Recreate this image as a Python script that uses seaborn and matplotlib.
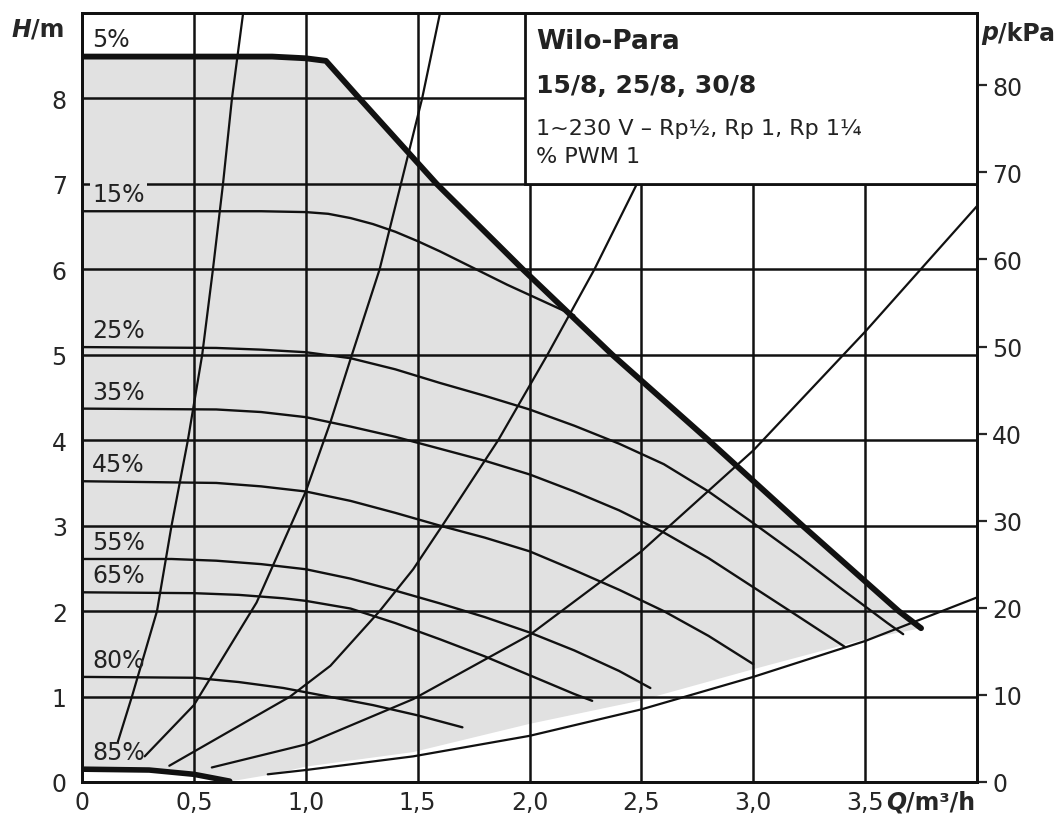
import numpy as np
import pandas as pd
import matplotlib
matplotlib.use('Agg')
import matplotlib.pyplot as plt
import seaborn as sns
from matplotlib.patches import Rectangle

# Kennlinien Wilo-Para 15/8, 25/8, 30/8  (Q in m³/h, H in m)
q_max = [0, 0.5, 0.85, 1.0, 1.09, 1.24, 1.585, 1.97, 2.37, 2.8, 3.22, 3.65, 3.75]
h_max = [8.49, 8.49, 8.49, 8.47, 8.44, 8.0, 7.0, 6.0, 5.0, 4.0, 3.0, 2.0, 1.8]

q_15 = [0, 0.6, 0.8, 1.0, 1.1, 1.2, 1.3, 1.4, 1.5, 1.6, 1.7, 1.8, 1.9, 2.0, 2.1, 2.2]
h_15 = [6.68, 6.68, 6.68, 6.67, 6.65, 6.6, 6.53, 6.44, 6.33, 6.21, 6.08, 5.95, 5.82, 5.7,
        5.58, 5.46]

q_25 = [0, 0.6, 0.8, 1.0, 1.2, 1.4, 1.6, 1.8, 2.0, 2.2, 2.4, 2.6, 2.8, 3.0, 3.2, 3.4,
        3.6, 3.67]
h_25 = [5.09, 5.08, 5.06, 5.03, 4.96, 4.83, 4.67, 4.52, 4.36, 4.17, 3.96, 3.72, 3.4,
        3.03, 2.65, 2.25, 1.86, 1.73]

q_35 = [0, 0.6, 0.8, 1.0, 1.2, 1.4, 1.6, 1.8, 2.0, 2.2, 2.4, 2.6, 2.8, 3.0, 3.2, 3.41]
h_35 = [4.37, 4.36, 4.33, 4.27, 4.16, 4.04, 3.9, 3.76, 3.6, 3.4, 3.18, 2.92, 2.62, 2.28,
        1.94, 1.58]

q_45 = [0, 0.6, 0.8, 1.0, 1.2, 1.4, 1.6, 1.8, 2.0, 2.2, 2.4, 2.6, 2.8, 3.0]
h_45 = [3.52, 3.5, 3.46, 3.4, 3.29, 3.15, 3.0, 2.86, 2.7, 2.48, 2.25, 2.0, 1.71, 1.38]

q_55 = [0, 0.4, 0.6, 0.8, 1.0, 1.2, 1.4, 1.6, 1.8, 2.0, 2.2, 2.4, 2.54]
h_55 = [2.61, 2.61, 2.59, 2.55, 2.49, 2.38, 2.24, 2.09, 1.93, 1.75, 1.54, 1.3, 1.1]

q_65 = [0, 0.5, 0.7, 0.9, 1.0, 1.2, 1.4, 1.6, 1.8, 2.0, 2.2, 2.28]
h_65 = [2.22, 2.21, 2.19, 2.15, 2.12, 2.03, 1.86, 1.67, 1.47, 1.25, 1.03, 0.95]

q_80 = [0, 0.5, 0.7, 0.9, 1.0, 1.1, 1.3, 1.5, 1.7]
h_80 = [1.23, 1.22, 1.17, 1.1, 1.05, 1.0, 0.9, 0.78, 0.64]

q_85 = [0, 0.3, 0.5, 0.66]
h_85 = [0.15, 0.14, 0.09, 0.01]

# untere Grenze des Arbeitsbereichs
q_min = [0.67, 0.85, 1.0, 1.48, 2.0, 2.49, 3.0, 3.5, 3.75]
h_min = [0.01, 0.09, 0.18, 0.35, 0.68, 0.95, 1.32, 1.67, 1.8]

# Anlagenkennlinien
q_s1 = [0.16, 0.223, 0.335, 0.40, 0.473, 0.537, 0.585, 0.63, 0.67, 0.72]
h_s1 = [0.47, 1.0, 2.0, 3.0, 4.0, 5.0, 6.0, 7.0, 8.0, 9.0]
q_s2 = [0.28, 0.5, 0.78, 1.0, 1.11, 1.2, 1.33, 1.43, 1.52, 1.6]
h_s2 = [0.3, 0.9, 2.1, 3.4, 4.21, 4.95, 6.0, 7.05, 8.0, 9.0]
q_s3 = [0.39, 0.93, 1.11, 1.33, 1.48, 1.61, 1.86, 2.08, 2.29, 2.48]
h_s3 = [0.19, 1.0, 1.36, 2.0, 2.49, 3.0, 4.0, 5.0, 6.0, 7.0]
q_s4 = [0.58, 1.0, 1.48, 2.0, 2.5, 3.0, 3.5, 4.0]
h_s4 = [0.17, 0.44, 0.97, 1.72, 2.7, 3.88, 5.27, 6.74]
q_s5 = [0.83, 1.0, 1.48, 2.0, 2.5, 3.0, 3.5, 4.0]
h_s5 = [0.09, 0.14, 0.3, 0.54, 0.85, 1.23, 1.65, 2.16]

labels = ['5%', '15%', '25%', '35%', '45%', '55%', '65%', '80%', '85%']
x_ticks = [0, 0.5, 1.0, 1.5, 2.0, 2.5, 3.0, 3.5]
x_ticklabels = ['0', '0,5', '1,0', '1,5', '2,0', '2,5', '3,0', '3,5']
kpa_ticks = [0, 10, 20, 30, 40, 50, 60, 70, 80]

sns.set_style('white')
plt.rcParams['font.family'] = ['DejaVu Sans']

fig = plt.figure(figsize=(10.6, 8.29), dpi=100)
ax = fig.add_axes([0.0774, 0.0555, 0.8443, 0.9276])

grau = '#e1e1e1'
schwarz = '#111111'
# Arbeitsbereich grau hinterlegen
poly_q = q_max + q_min[::-1] + q_85[::-1]
poly_h = h_max + h_min[::-1] + h_85[::-1]
ax.fill(poly_q, poly_h, color=grau, lw=0, zorder=1)

kurven = [(q_15, h_15), (q_25, h_25), (q_35, h_35), (q_45, h_45),
          (q_55, h_55), (q_65, h_65), (q_80, h_80)]
for q, h in kurven:
    sns.lineplot(x=q, y=h, ax=ax, color=schwarz, lw=1.7, sort=False, zorder=2)

for q, h in [(q_s1, h_s1), (q_s2, h_s2), (q_s3, h_s3), (q_s4, h_s4), (q_s5, h_s5)]:
    sns.lineplot(x=q, y=h, ax=ax, color=schwarz, lw=1.6, sort=False, zorder=2)

sns.lineplot(x=q_max, y=h_max, ax=ax, color=schwarz, lw=4.2, sort=False, zorder=2.6)
sns.lineplot(x=q_85, y=h_85, ax=ax, color=schwarz, lw=4.0, sort=False, zorder=2.6)

# Beschriftung der Kurven
starts = [h_max[0]] + [k[1][0] for k in kurven] + [h_85[0]]
for lab, h0 in zip(labels, starts):
    kw = {}
    if lab == '15%':
        kw['bbox'] = dict(facecolor=grau, edgecolor='none', pad=1.5)
    ax.text(0.045, h0 + 0.2, lab, fontsize=17, color='#222222',
            ha='left', va='center', zorder=3, **kw)

ax.set_xlim(0, 4)
ax.set_ylim(0, 9)
ax.set_xticks(x_ticks)
ax.set_xticklabels(x_ticklabels)
ax.set_yticks(range(0, 9))
ax.tick_params(axis='x', length=0, pad=6, labelsize=17)
ax.tick_params(axis='y', length=0, pad=11, labelsize=17)
ax.grid(True, color=schwarz, lw=1.8)
ax.set_axisbelow(False)
for s in ax.spines.values():
    s.set_linewidth(2)
    s.set_color(schwarz)
ax.set_xlabel('')
ax.set_ylabel('')

# Infokasten
ax.add_patch(Rectangle((1.98, 7.0), 2.02, 2.0, facecolor='white',
                       edgecolor=schwarz, lw=2, zorder=3))
ax.text(2.03, 8.67, 'Wilo-Para', fontsize=19, fontweight='bold', color='#222222',
        va='center', zorder=4)
ax.text(2.03, 8.16, '15/8, 25/8, 30/8', fontsize=18, fontweight='bold', color='#222222',
        va='center', zorder=4)
ax.text(2.03, 7.66, '1~230 V – Rp½, Rp 1, Rp 1¼', fontsize=16, color='#222222',
        va='center', zorder=4)
ax.text(2.03, 7.33, '% PWM 1', fontsize=16, color='#222222', va='center', zorder=4)

# rechte Achse p/kPa
ax2 = ax.twinx()
ax2.set_ylim(0, 9 * 9.81)
ax2.set_yticks(kpa_ticks)
ax2.tick_params(axis='y', direction='out', length=7, width=1.6, pad=4, labelsize=17)
for s in ax2.spines.values():
    s.set_linewidth(2)
    s.set_color(schwarz)


# Achsentitel: kursives Formelzeichen + fette Einheit
def achsentitel(x, y, zeichen, einheit):
    t = fig.text(x, y, zeichen, fontsize=17, fontweight='bold', style='italic', va='center')
    ax2.annotate(einheit, xy=(1, 0), xycoords=t, fontsize=17, fontweight='bold',
                 va='bottom', ha='left', annotation_clip=False)


achsentitel(0.011, 0.964, 'H', '/m')
achsentitel(0.926, 0.96, 'p', '/kPa')
achsentitel(0.836, 0.032, 'Q', '/m³/h')

fig.savefig('out.png', dpi=100)
